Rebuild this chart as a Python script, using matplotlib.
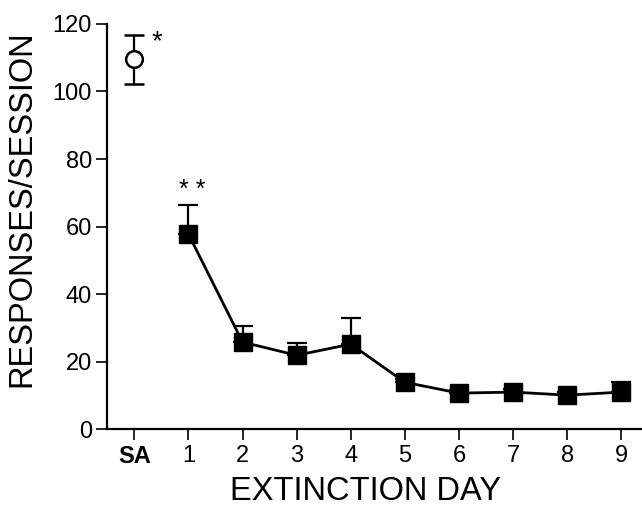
import matplotlib.pyplot as plt

plt.rcParams['font.family'] = ['Liberation Sans', 'DejaVu Sans']

tick_labels = ['SA', '1', '2', '3', '4', '5', '6', '7', '8', '9']
sa_mean = 109.5
sa_err = 7.2
days = [1, 2, 3, 4, 5, 6, 7, 8, 9]
ext_mean = [57.8, 25.8, 21.9, 25.2, 13.9, 10.7, 11.0, 10.1, 11.0]
ext_err = [8.6, 4.7, 3.6, 7.7, 1.0, 1.0, 1.0, 1.0, 2.9]

fig = plt.figure(figsize=(6.42, 5.08), dpi=100)
ax = fig.add_axes([0.167, 0.155, 0.833, 0.798])

# self-administration baseline (open circle, two-sided error)
ax.errorbar([0], [sa_mean], yerr=sa_err, fmt='o', ms=12, mfc='white', mec='black',
            mew=1.8, ecolor='black', elinewidth=1.6, capsize=7, capthick=1.6, zorder=3)

# extinction days (filled squares, upper error only)
ax.errorbar(days, ext_mean, yerr=[[0] * len(ext_err), ext_err], fmt='s-', ms=13,
            color='black', lw=2, elinewidth=1.6, capsize=7, capthick=1.6, zorder=3)

ax.text(0.42, sa_mean + 5, '*', fontsize=20, ha='center', va='center')
ax.text(1.07, ext_mean[0] + 13, '* *', fontsize=18, ha='center', va='center')

ax.set_xlim(-0.5, 9.38)
ax.set_ylim(0, 120)
ax.set_yticks([0, 20, 40, 60, 80, 100, 120])
ax.set_xticks(range(10))
ax.set_xticklabels(tick_labels)
ax.get_xticklabels()[0].set_fontweight('bold')

for s in ['top', 'right']:
    ax.spines[s].set_visible(False)
for s in ['left', 'bottom']:
    ax.spines[s].set_linewidth(1.6)
ax.tick_params(axis='both', direction='out', length=8, width=1.2, labelsize=17, pad=3)

ax.set_ylabel('RESPONSES/SESSION', fontsize=23.5)
ax.set_xlabel('EXTINCTION DAY', fontsize=23.5)
ax.yaxis.set_label_coords(-0.13, 0.545)
ax.xaxis.set_label_coords(0.484, -0.116)

fig.savefig('out.png', dpi=100)
